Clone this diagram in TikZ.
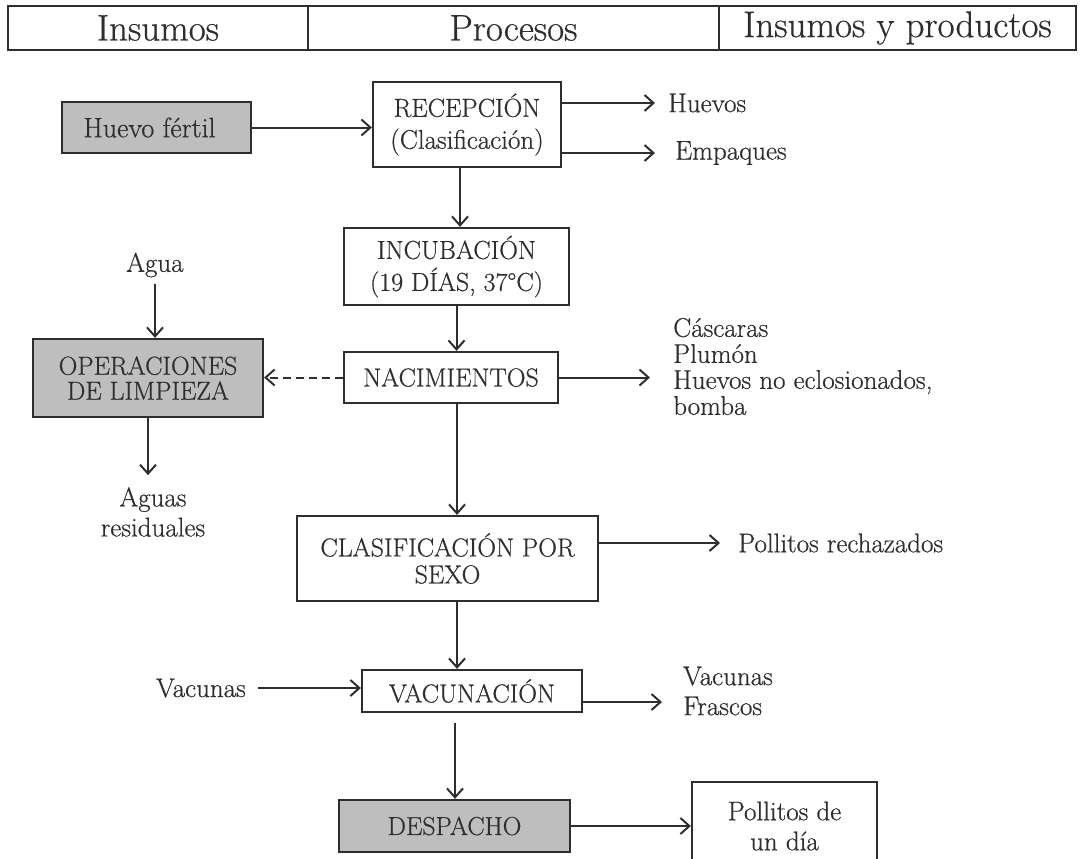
\documentclass[tikz,border=0pt]{standalone}
\usepackage{fontspec}
\setmainfont{Latin Modern Roman}[FakeBold=0.6]
\usetikzlibrary{arrows.meta,calc}
\definecolor{ink}{HTML}{2E2E2E}
\definecolor{boxgray}{HTML}{BEBEBE}
\begin{document}
\begin{tikzpicture}[x=1pt,y=-1pt,
  every node/.style={text=ink, font=\fontsize{27}{29}\selectfont, inner sep=0pt},
  caps/.style={font=\fontsize{26}{29}\selectfont},
  wbox/.style={draw=ink, line width=2.2pt, fill=white, align=center, caps},
  gbox/.style={draw=ink, line width=2.2pt, fill=boxgray, align=center, caps},
  hcell/.style={draw=ink, line width=2pt, font=\fontsize{37}{40}\selectfont, minimum height=44pt},
  lbl/.style={align=center},
  arr/.style={draw=ink, line width=2pt, -{Straight Barb[length=9pt,width=16pt]}},
  dasharr/.style={arr, dash pattern=on 8pt off 5pt}
]
\useasboundingbox (0,0) rectangle (1084,859);
\clip (0,0) rectangle (1084,859);

% header
\node[hcell, minimum width=300pt] (h1) at (158,28) {Insumos};
\node[hcell, minimum width=411pt] (h2) at (513.5,28) {Procesos};
\node[hcell, minimum width=357pt] (h3) at (897.5,28) {Insumos y productos};

% boxes
\node[gbox, minimum width=189pt, minimum height=51pt, font=\fontsize{28}{29}\selectfont] (hf) at (156.5,127.5) {Huevo fértil\hspace*{14pt}};
\node[wbox, minimum width=188pt, minimum height=85pt] (rec) at (467,124.5) {RECEPCIÓN\\[3pt]{\fontsize{27}{29}\selectfont(Clasificación)}};
\node[wbox, minimum width=225pt, minimum height=77pt] (inc) at (456.5,266.5) {INCUBACIÓN\\[3pt](19 DÍAS, 37°C)};
\node[wbox, minimum width=214pt, minimum height=51pt] (nac) at (451,377.5) {NACIMIENTOS};
\node[gbox, minimum width=230pt, minimum height=78pt] (ope) at (148,378) {OPERACIONES\\[-4pt]DE LIMPIEZA};
\node[wbox, minimum width=301pt, minimum height=85pt] (cla) at (447.5,558.5) {CLASIFICACIÓN POR\\[-2pt]SEXO};
\node[wbox, minimum width=220pt, minimum height=42pt] (vac) at (472,691) {VACUNACIÓN};
\node[gbox, minimum width=231pt, minimum height=52pt] (des) at (454.5,826) {DESPACHO};
\node[wbox, minimum width=185pt, minimum height=88pt, font=\fontsize{27}{29}\selectfont] (pol) at (784.5,826) {Pollitos de\\[1pt]un día};

% labels
\node[anchor=west] (hue) at (668,103) {Huevos};
\node[anchor=west] (emp) at (675,153) {Empaques};
\node[lbl] (agua) at (155,265) {Agua};
\node[lbl] (aguas) at (153,512) {Aguas\\[1pt]residuales};
\node[anchor=west, align=left] (cas) at (673,366.5) {Cáscaras\\[-3pt]Plumón\\[-3pt]Huevos no eclosionados,\\[-3pt]bomba};
\node[anchor=west] (prech) at (738,543) {Pollitos rechazados};
\node[lbl] (vacin) at (201,688) {Vacunas};
\node[anchor=west, align=left] (vacout) at (683,691) {Vacunas\\[1pt]Frascos};

% connectors
\draw[arr] (hf.east) -- (hf.east -| rec.west);
\draw[arr] (rec.east |- hue.west) -- ([xshift=-13pt]hue.west);
\draw[arr] (rec.east |- emp.west) -- ([xshift=-20pt]emp.west);
\draw[arr] ([xshift=3.5pt]inc.north |- rec.south) -- ([xshift=3.5pt]inc.north);
\draw[arr] (inc.south) -- (inc.south |- nac.north);
\draw[dasharr] (nac.west) -- (nac.west -| ope.east);
\draw[arr, shorten <=6pt] (agua.south) -- (agua.south |- ope.north);
\draw[arr, shorten >=12pt] (ope.south) -- (ope.south |- aguas.north);
\draw[arr] (nac.east) -- ([xshift=-23pt]nac.east -| cas.west);
\draw[arr] ([xshift=6pt]nac.south) -- ([xshift=6pt]nac.south |- cla.north);
\draw[arr] (cla.east |- prech.west) -- ([xshift=-18pt]prech.west);
\draw[arr] ([xshift=9.5pt]cla.south) -- ([xshift=9.5pt]cla.south |- vac.north);
\draw[arr, shorten <=12pt] (vacin.east) -- (vacin.east -| vac.west);
\draw[arr] ([yshift=-11pt]vac.east) -- ([yshift=-11pt,xshift=-21pt]vac.east -| vacout.west);
\draw[arr, shorten <=10pt] ([xshift=-17pt]vac.south) -- ([xshift=-17pt]vac.south |- des.north);
\draw[arr] (des.east) -- (des.east -| pol.west);
\end{tikzpicture}
\end{document}
